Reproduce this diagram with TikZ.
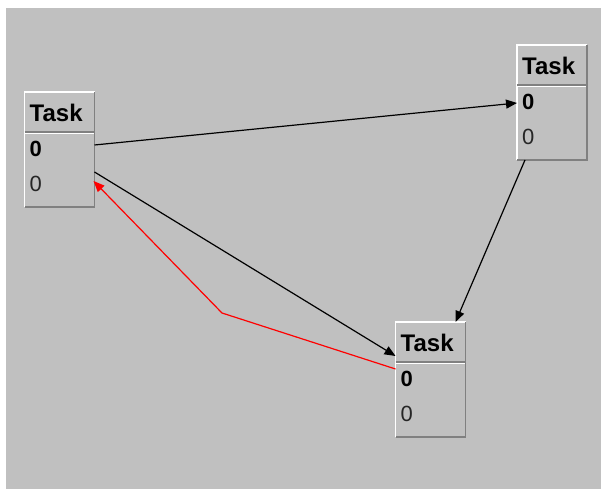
\documentclass[tikz,border=0pt]{standalone}
\usepackage{fontspec}
\setmainfont{Liberation Sans}
\usetikzlibrary{calc,arrows.meta}
\definecolor{bg}{HTML}{C0C0C0}
\definecolor{edgedark}{HTML}{808080}
\tikzset{
  taskbox/.style={draw=none,fill=bg,minimum width=70pt,minimum height=115pt,inner sep=0pt,outer sep=0pt},
  ttl/.style={anchor=base west,inner sep=0pt,font=\fontsize{24}{24}\selectfont\bfseries},
  zb/.style={anchor=base west,inner sep=0pt,font=\fontsize{22}{22}\selectfont\bfseries},
  zn/.style={anchor=base west,inner sep=0pt,text=black!85,font=\fontsize{22}{22}\selectfont},
  conn/.style={line width=1.2pt,-{Triangle[length=11pt,width=9pt]}},
  redconn/.style={conn,red},
}
\newcommand{\taskdraw}[3]{%
  \node[taskbox] (#1) at (#2,#3) {};
  \draw[white,line width=1.3pt] (#1.south west) -- (#1.north west) -- (#1.north east);
  \draw[edgedark,line width=1.3pt] (#1.north east) -- (#1.south east) -- (#1.south west);
  \draw[edgedark,line width=1.2pt] ($(#1.north west)+(0,-40)$) -- ($(#1.north east)+(0,-40)$);
  \draw[white,line width=1.2pt] ($(#1.north west)+(0,-41.5)$) -- ($(#1.north east)+(-1,-41.5)$);
  \node[ttl] (#1t) at ($(#1.north west)+(5,-30)$) {Task};
  \node[zb] (#1b) at ($(#1.north west)+(5,-65)$) {0};
  \node[zn] (#1n) at ($(#1.north west)+(5,-100)$) {0};
}
\begin{document}
\begin{tikzpicture}[x=1pt,y=1pt]
\fill[white] (0,0) rectangle (601,489);
\fill[bg] (6,0) rectangle (601,481);
\useasboundingbox (0,0) rectangle (601,489);
\taskdraw{A}{59.5}{339.5}
\taskdraw{B}{552}{386.5}
\taskdraw{C}{430.5}{109.5}
\coordinate (bend) at (222,176);
\draw[conn] ($(A.north east)+(0,-53)$) -- ($(B.north west)+(0,-58)$);
\draw[conn] ($(A.north east)+(0,-80)$) -- ($(C.north west)+(0,-34)$);
\draw[conn] ($(B.south west)+(8,0)$) -- ($(C.north west)+(60,0)$);
\draw[redconn] ($(C.north west)+(0,-47)$) -- (bend) -- ($(A.north east)+(-1,-89)$);
\end{tikzpicture}
\end{document}
